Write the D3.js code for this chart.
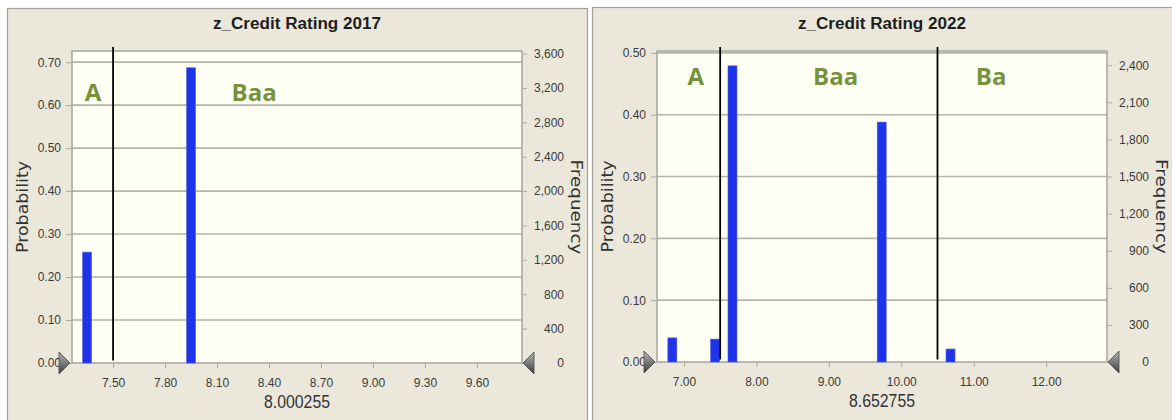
<!DOCTYPE html>
<html><head><meta charset="utf-8">
<script src="https://cdn.jsdelivr.net/npm/d3@7/dist/d3.min.js"></script>
<style>body{margin:0;background:#fff}svg{display:block}</style>
</head><body><svg id="c" width="1172" height="420"></svg>
<script>
// ---------- data ----------
const trials = 5000;
const titles = ["z_Credit Rating 2017", "z_Credit Rating 2022"];
const meanLabels = ["8.000255", "8.652755"];

const bins2017 = [7.35, 7.95];
const probs2017 = [0.258, 0.687];
const bins2022 = [6.84, 7.43, 7.67, 9.73, 10.68];
const probs2022 = [0.039, 0.037, 0.479, 0.388, 0.021];

const cutoffs2017 = [7.5];
const cutoffs2022 = [7.5, 10.5];

const ratings2017 = ["A", "Baa"];
const ratingX2017 = [7.385, 8.314];
const ratingY2017 = 0.61;
const ratings2022 = ["A", "Baa", "Ba"];
const ratingX2022 = [7.165, 9.094, 11.24];
const ratingY2022 = 0.448;

const xDomain2017 = [7.263, 9.86];
const xDomain2022 = [6.628, 12.84];
const probMax2017 = 0.726;
const probMax2022 = 0.503;

const xTicks2017 = [7.5, 7.8, 8.1, 8.4, 8.7, 9.0, 9.3, 9.6];
const xTicks2022 = [7, 8, 9, 10, 11, 12];
const probTicks2017 = [0, 0.1, 0.2, 0.3, 0.4, 0.5, 0.6, 0.7];
const probTicks2022 = [0, 0.1, 0.2, 0.3, 0.4, 0.5];
const freqTicks2017 = [0, 400, 800, 1200, 1600, 2000, 2400, 2800, 3200, 3600];
const freqTicks2022 = [0, 300, 600, 900, 1200, 1500, 1800, 2100, 2400];

// ---------- drawing ----------
const svg = d3.select("#c");
const defs = svg.append("defs");
const g1 = defs.append("linearGradient").attr("id", "triL").attr("x1", 0).attr("y1", 0).attr("x2", 0).attr("y2", 1);
g1.append("stop").attr("offset", "0%").attr("stop-color", "#b8b8b8");
g1.append("stop").attr("offset", "100%").attr("stop-color", "#3c3c3c");

const panels = [
  {px: 7, py: 8, bottom: 363, title: titles[0], mean: meanLabels[0], bins: bins2017, probs: probs2017,
   cut: cutoffs2017, rat: ratings2017, ratX: ratingX2017, ratY: ratingY2017, xd: xDomain2017, pmax: probMax2017,
   xt: xTicks2017, pt: probTicks2017, ft: freqTicks2017},
  {px: 592, py: 7, bottom: 362, title: titles[1], mean: meanLabels[1], bins: bins2022, probs: probs2022,
   cut: cutoffs2022, rat: ratings2022, ratX: ratingX2022, ratY: ratingY2022, xd: xDomain2022, pmax: probMax2022,
   xt: xTicks2022, pt: probTicks2022, ft: freqTicks2022}
];

const tickFont = "'Liberation Sans', Arial, sans-serif";

panels.forEach(p => {
  const g = svg.append("g");
  const left = p.px + 65, right = p.px + 515, top = 51, bottom = p.bottom;
  // panel background
  g.append("rect").attr("x", p.px + 0.5).attr("y", p.py + 0.5).attr("width", 580).attr("height", 430)
    .attr("fill", "#ebe8db").attr("stroke", "#a3a39c").attr("stroke-width", 1.2);

  const x = d3.scaleLinear().domain(p.xd).range([left, right]);
  const y = d3.scaleLinear().domain([0, p.pmax]).range([bottom, top]);
  const yF = d3.scaleLinear().domain([0, p.pmax * trials]).range([bottom, top]);

  // plot area
  g.append("rect").attr("x", left).attr("y", top).attr("width", right - left).attr("height", bottom - top)
    .attr("fill", "#fffff3");

  // gridlines
  g.append("g").selectAll("line").data(p.pt.filter(d => d > 0)).join("line")
    .attr("x1", left).attr("x2", right).attr("y1", d => y(d)).attr("y2", d => y(d))
    .attr("stroke", "#b5b5ad").attr("stroke-width", 1.6);

  // plot border
  g.append("rect").attr("x", left).attr("y", top).attr("width", right - left).attr("height", bottom - top)
    .attr("fill", "none").attr("stroke", "#a5a5a0").attr("stroke-width", 1.5);

  // bars
  g.append("g").selectAll("rect").data(p.bins).join("rect")
    .attr("x", d => x(d) - 4.5).attr("width", 9)
    .attr("y", (d, i) => y(p.probs[i])).attr("height", (d, i) => bottom - y(p.probs[i]))
    .attr("fill", "#1f33ea").attr("stroke", "#5060d8").attr("stroke-width", 0.6);

  // cutoff lines
  g.append("g").selectAll("line").data(p.cut).join("line")
    .attr("x1", d => x(d)).attr("x2", d => x(d)).attr("y1", top - 4).attr("y2", bottom - 2.5)
    .attr("stroke", "#000").attr("stroke-width", 1.8);

  // rating labels
  g.append("g").selectAll("text").data(p.rat).join("text")
    .attr("x", (d, i) => x(p.ratX[i])).attr("y", y(p.ratY))
    .attr("text-anchor", "middle")
    .attr("font-family", "'Open Sans', Lato, sans-serif").attr("font-weight", "bold").attr("font-size", 24)
    .attr("fill", "#76923c").text(d => d);

  // left axis
  const ax = g.append("g").attr("transform", `translate(${left},0)`)
    .call(d3.axisLeft(y).tickValues(p.pt).tickFormat(d3.format(".2f")).tickSize(6).tickPadding(5));
  // right axis
  const ar = g.append("g").attr("transform", `translate(${right},0)`)
    .call(d3.axisRight(yF).tickValues(p.ft).tickFormat(d3.format(",")).tickSize(5).tickPadding(0));
  ar.selectAll("text").attr("text-anchor", "end").attr("x", 42);
  // bottom axis
  const ab = g.append("g").attr("transform", `translate(0,${bottom})`)
    .call(d3.axisBottom(x).tickValues(p.xt).tickFormat(d3.format(".2f")).tickSize(5).tickPadding(10));

  [ax, ar, ab].forEach(a => {
    a.select(".domain").remove();
    a.selectAll("line").attr("stroke", "#a8a8a2");
    a.selectAll("text").attr("font-family", tickFont).attr("font-size", 12).attr("fill", "#3a3a3a");
  });

  // triangles
  const zy = y(0);
  g.append("path").attr("d", `M${left - 13},${zy - 11} L${left - 2},${zy} L${left - 13},${zy + 11} Z`)
    .attr("fill", "url(#triL)").attr("stroke", "#444").attr("stroke-width", 0.8);
  g.append("path").attr("d", `M${right + 12},${zy - 11} L${right + 1},${zy} L${right + 12},${zy + 11} Z`)
    .attr("fill", "url(#triL)").attr("stroke", "#444").attr("stroke-width", 0.8);

  // title
  g.append("text").attr("x", (left + right) / 2).attr("y", 29).attr("text-anchor", "middle")
    .attr("font-family", "'Liberation Sans', Arial, sans-serif").attr("font-weight", "bold").attr("font-size", 16)
    .attr("textLength", 168).attr("lengthAdjust", "spacingAndGlyphs")
    .attr("fill", "#1e1e1e").text(p.title);

  // mean label under x axis
  g.append("text").attr("x", (left + right) / 2).attr("y", bottom + 45).attr("text-anchor", "middle")
    .attr("font-family", "'Liberation Sans', Arial, sans-serif").attr("font-size", 18)
    .attr("textLength", 66).attr("lengthAdjust", "spacingAndGlyphs")
    .attr("fill", "#333").text(p.mean);

  // axis titles
  const cy = (top + bottom) / 2;
  g.append("text").attr("transform", `translate(${left - 44},${cy}) rotate(-90)`).attr("text-anchor", "middle")
    .attr("font-family", "'DejaVu Sans', Verdana, sans-serif").attr("font-size", 16)
    .attr("textLength", 92).attr("lengthAdjust", "spacingAndGlyphs")
    .attr("fill", "#333").text("Probability");
  g.append("text").attr("transform", `translate(${right + 49},${cy}) rotate(90)`).attr("text-anchor", "middle")
    .attr("font-family", "'DejaVu Sans', Verdana, sans-serif").attr("font-size", 16)
    .attr("textLength", 95).attr("lengthAdjust", "spacingAndGlyphs")
    .attr("fill", "#333").text("Frequency");
});
</script>
</body></html>
